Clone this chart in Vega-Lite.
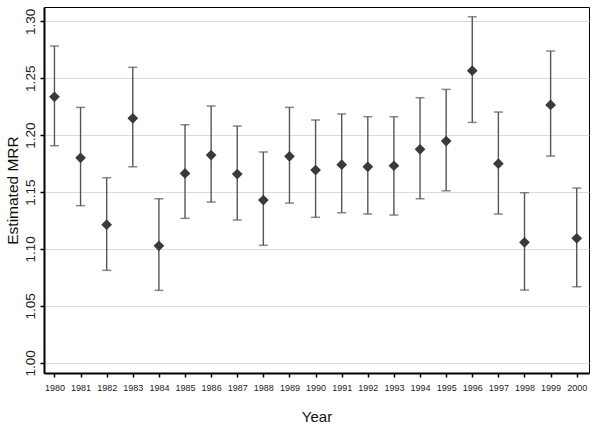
{
  "$schema": "https://vega.github.io/schema/vega-lite/v6.json",
  "autosize": {"type": "none"},
  "padding": {"left": 44, "top": 7, "right": 11, "bottom": 54},
  "width": 545,
  "height": 366,
  "background": "white",
  "config": {
    "view": {"stroke": "black", "strokeWidth": 1},
    "font": "Liberation Sans"
  },
  "data": {
    "values": [
      {"year": 1980, "mrr": 1.2337, "lo": 1.1907, "hi": 1.2783},
      {"year": 1981, "mrr": 1.1801, "lo": 1.1380, "hi": 1.2244},
      {"year": 1982, "mrr": 1.1213, "lo": 1.0812, "hi": 1.1626},
      {"year": 1983, "mrr": 1.2148, "lo": 1.1722, "hi": 1.2596},
      {"year": 1984, "mrr": 1.1028, "lo": 1.0636, "hi": 1.1441},
      {"year": 1985, "mrr": 1.1664, "lo": 1.1269, "hi": 1.2091},
      {"year": 1986, "mrr": 1.1825, "lo": 1.1412, "hi": 1.2256},
      {"year": 1987, "mrr": 1.1658, "lo": 1.1254, "hi": 1.2080},
      {"year": 1988, "mrr": 1.1430, "lo": 1.1032, "hi": 1.1852},
      {"year": 1989, "mrr": 1.1814, "lo": 1.1403, "hi": 1.2244},
      {"year": 1990, "mrr": 1.1693, "lo": 1.1278, "hi": 1.2133},
      {"year": 1991, "mrr": 1.1740, "lo": 1.1318, "hi": 1.2186},
      {"year": 1992, "mrr": 1.1722, "lo": 1.1307, "hi": 1.2162},
      {"year": 1993, "mrr": 1.1731, "lo": 1.1298, "hi": 1.2162},
      {"year": 1994, "mrr": 1.1875, "lo": 1.1441, "hi": 1.2329},
      {"year": 1995, "mrr": 1.1948, "lo": 1.1511, "hi": 1.2402},
      {"year": 1996, "mrr": 1.2566, "lo": 1.2112, "hi": 1.3040},
      {"year": 1997, "mrr": 1.1749, "lo": 1.1307, "hi": 1.2203},
      {"year": 1998, "mrr": 1.1058, "lo": 1.0639, "hi": 1.1494},
      {"year": 1999, "mrr": 1.2265, "lo": 1.1816, "hi": 1.2739},
      {"year": 2000, "mrr": 1.1093, "lo": 1.0668, "hi": 1.1535}
    ]
  },
  "encoding": {
    "x": {
      "field": "year",
      "type": "quantitative",
      "scale": {"domain": [1979.6, 2000.47], "nice": false, "zero": false},
      "axis": {
        "title": "Year",
        "values": [1980,1981,1982,1983,1984,1985,1986,1987,1988,1989,1990,1991,1992,1993,1994,1995,1996,1997,1998,1999,2000],
        "format": "d",
        "grid": false,
        "domainColor": "black",
        "domainWidth": 2,
        "tickColor": "black",
        "tickWidth": 1.5,
        "tickSize": 4,
        "labelFontSize": 9,
        "labelColor": "#222",
        "labelPadding": 6,
        "labelFlush": false,
        "titleFontSize": 15,
        "titleFontWeight": "normal",
        "titleColor": "#111",
        "titlePadding": 17
      }
    }
  },
  "layer": [
    {
      "mark": {"type": "rule", "color": "#555555", "strokeWidth": 1.4},
      "encoding": {
        "y": {
          "field": "lo",
          "type": "quantitative",
          "scale": {"domain": [0.991, 1.3126], "nice": false, "zero": false},
          "axis": {
            "title": "Estimated MRR",
            "values": [1.0, 1.05, 1.1, 1.15, 1.2, 1.25, 1.3],
            "format": ".2f",
            "grid": true,
            "gridColor": "#dcdcdc",
            "gridWidth": 1,
            "domainColor": "black",
            "domainWidth": 2,
            "tickColor": "black",
            "tickWidth": 1.5,
            "tickSize": 4,
            "labelAngle": -90,
            "labelAlign": "center",
            "labelBaseline": "bottom",
            "labelFontSize": 13.5,
            "labelColor": "#222",
            "labelPadding": 3,
            "titleFontSize": 15.5,
            "titleFontWeight": "normal",
            "titleColor": "#111",
            "titlePadding": 3
          }
        },
        "y2": {"field": "hi"}
      }
    },
    {
      "mark": {"type": "tick", "orient": "horizontal", "color": "#555555", "size": 9, "thickness": 1.5},
      "encoding": {"y": {"field": "hi", "type": "quantitative"}}
    },
    {
      "mark": {"type": "tick", "orient": "horizontal", "color": "#555555", "size": 9, "thickness": 1.5},
      "encoding": {"y": {"field": "lo", "type": "quantitative"}}
    },
    {
      "mark": {"type": "point", "shape": "diamond", "filled": true, "color": "#3a3a3a", "size": 115, "opacity": 1},
      "encoding": {"y": {"field": "mrr", "type": "quantitative"}}
    }
  ]
}
